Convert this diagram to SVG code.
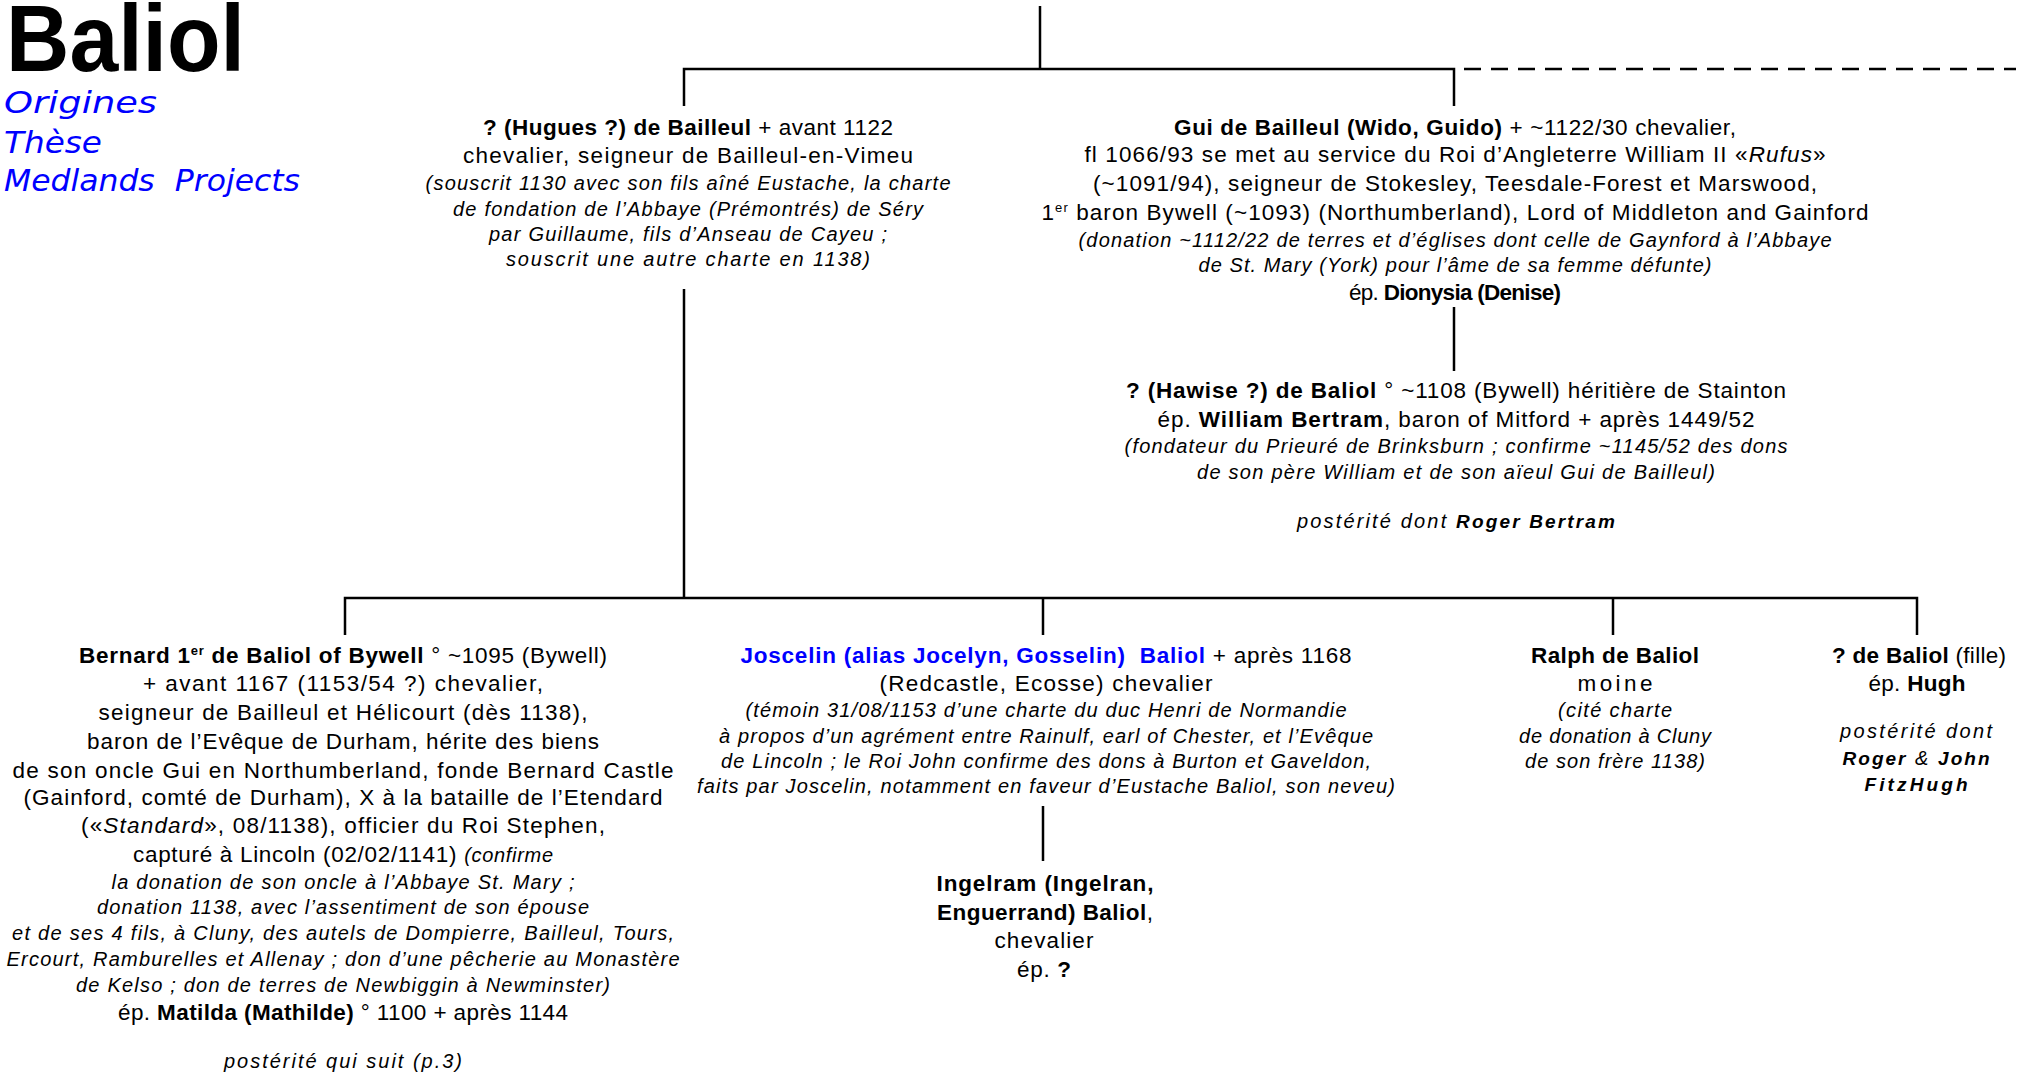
<svg xmlns="http://www.w3.org/2000/svg" width="2021" height="1076" viewBox="0 0 2021 1076">
<style>
text { font-family: "Liberation Sans", Arial, sans-serif; fill: #000; }
.r { font-size: 22.5px; text-anchor: middle; }
.i { font-size: 20px; font-style: italic; text-anchor: middle; }
.b { font-weight: bold; }
.bi { font-weight: bold; font-style: italic; font-size: 19px; }
.blue { fill: #0000FF; }
.lk { font-family: "DejaVu Sans", Verdana, sans-serif; font-style: italic; font-size: 31px; fill: #0000FF; }
.sup { font-size: 13px; }
.ln { stroke: #000; stroke-width: 2.5; fill: none; }
.dash { stroke: #000; stroke-width: 2.5; fill: none; stroke-dasharray: 17 10; }
</style>

<g id="title">
<text x="6" y="71" font-size="94" font-weight="bold" textLength="239" lengthAdjust="spacingAndGlyphs">Baliol</text>
<text class="lk" x="4" y="113" textLength="153" lengthAdjust="spacingAndGlyphs">Origines</text>
<text class="lk" x="4" y="153" textLength="98" lengthAdjust="spacingAndGlyphs">Thèse</text>
<text class="lk" x="4" y="191" textLength="296" lengthAdjust="spacingAndGlyphs">Medlands&#160; Projects</text>
</g>

<g id="connectors">
<path class="ln" d="M1040,6 V69"/>
<path class="ln" d="M684,106 V69 H1454 V106"/>
<path class="dash" d="M1464,69 H2016"/>
<path class="ln" d="M684,289 V598"/>
<path class="ln" d="M1454,307 V371"/>
<path class="ln" d="M345,635 V598 H1917 V635"/>
<path class="ln" d="M1043,598 V635"/>
<path class="ln" d="M1613,598 V635"/>
<path class="ln" d="M1043,806 V861"/>
</g>

<g id="hugues">
<text class="r" x="688" y="135" textLength="410" lengthAdjust="spacing"><tspan class="b">? (Hugues ?) de Bailleul</tspan> + avant 1122</text>
<text class="r" x="688" y="163" textLength="450" lengthAdjust="spacing">chevalier, seigneur de Bailleul-en-Vimeu</text>
<text class="i" x="688" y="190" textLength="525" lengthAdjust="spacing">(souscrit 1130 avec son fils aîné Eustache, la charte</text>
<text class="i" x="688" y="216" textLength="470" lengthAdjust="spacing">de fondation de l’Abbaye (Prémontrés) de Séry</text>
<text class="i" x="688" y="241" textLength="398" lengthAdjust="spacing">par Guillaume, fils d’Anseau de Cayeu ;</text>
<text class="i" x="688" y="266" textLength="364" lengthAdjust="spacing">souscrit une autre charte en 1138)</text>
</g>

<g id="gui">
<text class="r" x="1455" y="135" textLength="562" lengthAdjust="spacing"><tspan class="b">Gui de Bailleul (Wido, Guido)</tspan> + ~1122/30 chevalier,</text>
<text class="r" x="1455" y="162" textLength="741" lengthAdjust="spacing">fl 1066/93 se met au service du Roi d’Angleterre William II «<tspan font-style="italic">Rufus</tspan>»</text>
<text class="r" x="1455" y="191" textLength="724" lengthAdjust="spacing">(~1091/94), seigneur de Stokesley, Teesdale-Forest et Marswood,</text>
<text class="r" x="1455" y="220" textLength="827" lengthAdjust="spacing">1<tspan class="sup" dy="-8">er</tspan><tspan dy="8"> baron Bywell (~1093) (Northumberland), Lord of Middleton and Gainford</tspan></text>
<text class="i" x="1455" y="247" textLength="753" lengthAdjust="spacing">(donation ~1112/22 de terres et d’églises dont celle de Gaynford à l’Abbaye</text>
<text class="i" x="1455" y="272" textLength="513" lengthAdjust="spacing">de St. Mary (York) pour l’âme de sa femme défunte)</text>
<text class="r" x="1455" y="300" font-size="21" textLength="212" lengthAdjust="spacing">ép. <tspan class="b">Dionysia (Denise)</tspan></text>
</g>

<g id="hawise">
<text class="r" x="1456" y="398" textLength="660" lengthAdjust="spacing"><tspan class="b">? (Hawise ?) de Baliol</tspan> ° ~1108 (Bywell) héritière de Stainton</text>
<text class="r" x="1456" y="427" textLength="597" lengthAdjust="spacing">ép. <tspan class="b">William Bertram</tspan>, baron of Mitford + après 1449/52</text>
<text class="i" x="1456" y="453" textLength="663" lengthAdjust="spacing">(fondateur du Prieuré de Brinksburn ; confirme ~1145/52 des dons</text>
<text class="i" x="1456" y="479" textLength="518" lengthAdjust="spacing">de son père William et de son aïeul Gui de Bailleul)</text>
<text class="i" x="1456" y="528" textLength="318" lengthAdjust="spacing">postérité dont <tspan class="bi">Roger Bertram</tspan></text>
</g>

<g id="bernard">
<text class="r" x="343" y="663" textLength="528" lengthAdjust="spacing"><tspan class="b">Bernard 1<tspan class="sup" dy="-8">er</tspan><tspan dy="8"> de Baliol of Bywell</tspan></tspan> ° ~1095 (Bywell)</text>
<text class="r" x="343" y="691" textLength="400" lengthAdjust="spacing">+ avant 1167 (1153/54 ?) chevalier,</text>
<text class="r" x="343" y="720" textLength="489" lengthAdjust="spacing">seigneur de Bailleul et Hélicourt (dès 1138),</text>
<text class="r" x="343" y="749" textLength="512" lengthAdjust="spacing">baron de l’Evêque de Durham, hérite des biens</text>
<text class="r" x="343" y="778" textLength="661" lengthAdjust="spacing">de son oncle Gui en Northumberland, fonde Bernard Castle</text>
<text class="r" x="343" y="805" textLength="639" lengthAdjust="spacing">(Gainford, comté de Durham), X à la bataille de l’Etendard</text>
<text class="r" x="343" y="833" textLength="524" lengthAdjust="spacing">(«<tspan font-style="italic">Standard</tspan>», 08/1138), officier du Roi Stephen,</text>
<text class="r" x="343" y="862" textLength="420" lengthAdjust="spacing">capturé à Lincoln (02/02/1141) <tspan font-style="italic" font-size="20">(confirme</tspan></text>
<text class="i" x="343" y="889" textLength="463" lengthAdjust="spacing">la donation de son oncle à l’Abbaye St. Mary ;</text>
<text class="i" x="343" y="914" textLength="492" lengthAdjust="spacing">donation 1138, avec l’assentiment de son épouse</text>
<text class="i" x="343" y="940" textLength="662" lengthAdjust="spacing">et de ses 4 fils, à Cluny, des autels de Dompierre, Bailleul, Tours,</text>
<text class="i" x="343" y="966" textLength="673" lengthAdjust="spacing">Ercourt, Ramburelles et Allenay ; don d’une pêcherie au Monastère</text>
<text class="i" x="343" y="992" textLength="534" lengthAdjust="spacing">de Kelso ; don de terres de Newbiggin à Newminster)</text>
<text class="r" x="343" y="1020" textLength="450" lengthAdjust="spacing">ép. <tspan class="b">Matilda (Mathilde)</tspan> ° 1100 + après 1144</text>
<text class="i" x="343" y="1068" textLength="238" lengthAdjust="spacing">postérité qui suit (p.3)</text>
</g>

<g id="joscelin">
<text class="r" x="1046" y="663" textLength="611" lengthAdjust="spacing"><tspan class="b blue">Joscelin (alias Jocelyn, Gosselin)&#160; Baliol</tspan> + après 1168</text>
<text class="r" x="1046" y="691" textLength="333" lengthAdjust="spacing">(Redcastle, Ecosse) chevalier</text>
<text class="i" x="1046" y="717" textLength="601" lengthAdjust="spacing">(témoin 31/08/1153 d’une charte du duc Henri de Normandie</text>
<text class="i" x="1046" y="743" textLength="654" lengthAdjust="spacing">à propos d’un agrément entre Rainulf, earl of Chester, et l’Evêque</text>
<text class="i" x="1046" y="768" textLength="650" lengthAdjust="spacing">de Lincoln ; le Roi John confirme des dons à Burton et Gaveldon,</text>
<text class="i" x="1046" y="793" textLength="698" lengthAdjust="spacing">faits par Joscelin, notamment en faveur d’Eustache Baliol, son neveu)</text>
</g>

<g id="ingelram">
<text class="r b" x="1045" y="891" textLength="217" lengthAdjust="spacing">Ingelram (Ingelran,</text>
<text class="r" x="1045" y="920" textLength="216" lengthAdjust="spacing"><tspan class="b">Enguerrand) Baliol</tspan>,</text>
<text class="r" x="1044" y="948" textLength="99" lengthAdjust="spacing">chevalier</text>
<text class="r" x="1044" y="977" textLength="54" lengthAdjust="spacing">ép. <tspan class="b">?</tspan></text>
</g>

<g id="ralph">
<text class="r b" x="1615" y="663" textLength="168" lengthAdjust="spacing">Ralph de Baliol</text>
<text class="r" x="1615" y="691" textLength="75" lengthAdjust="spacing">moine</text>
<text class="i" x="1615" y="717" textLength="114" lengthAdjust="spacing">(cité charte</text>
<text class="i" x="1615" y="743" textLength="192" lengthAdjust="spacing">de donation à Cluny</text>
<text class="i" x="1615" y="768" textLength="180" lengthAdjust="spacing">de son frère 1138)</text>
</g>

<g id="fille">
<text class="r" x="1919" y="663" textLength="174" lengthAdjust="spacing"><tspan class="b">? de Baliol</tspan> (fille)</text>
<text class="r" x="1917" y="691" textLength="97" lengthAdjust="spacing">ép. <tspan class="b">Hugh</tspan></text>
<text class="i" x="1916" y="738" textLength="152" lengthAdjust="spacing">postérité dont</text>
<text class="i" x="1916" y="765" textLength="147" lengthAdjust="spacing"><tspan class="bi">Roger</tspan> &amp; <tspan class="bi">John</tspan></text>
<text class="i" x="1916" y="791" textLength="103" lengthAdjust="spacing"><tspan class="bi">FitzHugh</tspan></text>
</g>
</svg>
